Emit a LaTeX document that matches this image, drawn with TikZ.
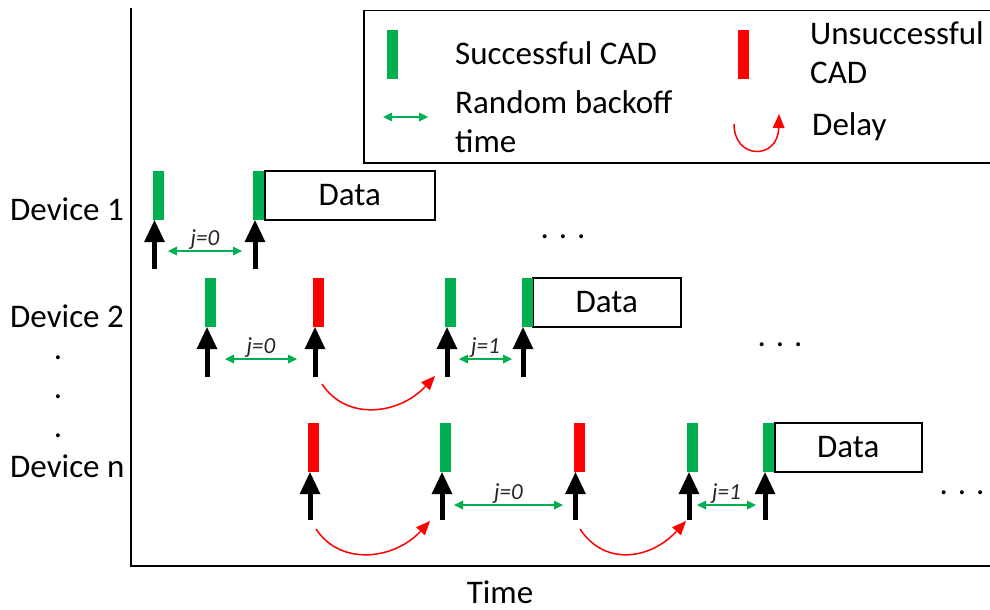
\documentclass[tikz,border=0pt]{standalone}
\usepackage{fontspec}
\setmainfont{Carlito}
\usetikzlibrary{arrows.meta}
\definecolor{cadgreen}{HTML}{00B050}
\definecolor{cadred}{HTML}{FF0000}

\begin{document}
\begin{tikzpicture}[x=1pt,y=-1pt,
  every node/.style={font=\fontsize{33}{39}\selectfont, inner sep=0pt},
  cadok/.style={fill=cadgreen, minimum width=11pt, minimum height=49pt},
  cadfail/.style={fill=cadred, minimum width=11pt, minimum height=49pt},
  databox/.style={draw, line width=1.5pt, fill=white, minimum height=49pt, anchor=west},
  uparrow/.style={line width=5pt, -{Triangle[width=21pt,length=22pt,line width=0pt]}},
  backoff/.style={cadgreen, line width=2pt,
    {Triangle[width=9pt,length=9pt,line width=0pt]}-{Triangle[width=9pt,length=9pt,line width=0pt]}},
  delay/.style={cadred, line width=1.5pt, -{Triangle[width=12pt,length=14pt,line width=0pt]}},
  jlab/.style={font=\fontsize{23}{27}\selectfont\itshape, text=black!85, anchor=south, inner sep=0.8pt},
  lbl/.style={anchor=base west},
  dots/.style={anchor=base},
]
\useasboundingbox (0,0) rectangle (990,610);

% axes
\coordinate (ytop) at (131,8);
\coordinate (orig) at (131,566);
\coordinate (xend) at (990,566);
\draw[line width=2pt] (ytop) -- (orig) -- (xend);
\node[anchor=base] (timelbl) at (500,603) {Time};

% legend
\node[draw, line width=1.5pt, minimum width=628pt, minimum height=152pt, anchor=north west] (legend) at (363,10) {};
\node[cadok] (lgok) at (392.5,54.5) {};
\node[lbl] (lgoktxt) at (455,64) {Successful CAD};
\node[cadfail] (lgfail) at (743.5,54.5) {};
\node[lbl] (lgfailtxta) at (810,45) {Unsuccessful};
\node[lbl] (lgfailtxtb) at (810,83) {CAD};
\coordinate (lgbs) at (383,117);
\coordinate (lgbe) at (428,117);
\draw[backoff] (lgbs) -- (lgbe);
\node[lbl] (lgbtxta) at (455,113) {Random backoff};
\node[lbl] (lgbtxtb) at (455,152) {time};
\coordinate (lgds) at (734,124);
\coordinate (lgde) at (779,114);
\draw[delay] (lgds) .. controls +(0,36) and +(-1,46) .. (lgde);
\node[lbl] (lgdtxt) at (812,135) {Delay};

% device labels
\node[lbl] (dev1) at (10,220) {Device 1};
\node[lbl] (dev2) at (10,327) {Device 2};
\node[dots] (vdot1) at (58,359) {.};
\node[dots] (vdot2) at (58,398) {.};
\node[dots] (vdot3) at (58,437) {.};
\node[lbl] (devn) at (10,477) {Device n};

% ---- device 1
\node[cadok] (b11) at (158,195.5) {};
\node[databox, minimum width=170pt] (d1) at (264,195.5) {Data};
\node[cadok] (b12) at (258.5,195.5) {};
\coordinate (a11) at (154.5,269);
\coordinate (a12) at (255,269);
\draw[uparrow] (a11) -- (a11 |- b11.south);
\draw[uparrow] (a12) -- (a12 |- b12.south);
\coordinate (j11s) at (168,251);
\coordinate (j11e) at (242,251);
\draw[backoff] (j11s) -- node[jlab] {j=0} (j11e);
\node[dots] (dots1) at (563,238) {. . .};

% ---- device 2
\node[cadok] (b21) at (210.5,302.5) {};
\node[cadfail] (b22) at (318.5,302.5) {};
\node[cadok] (b23) at (450.5,302.5) {};
\node[databox, minimum width=148pt] (d2) at (532,302.5) {Data};
\node[cadok] (b24) at (527,302.5) {};
\coordinate (a21) at (207,377);
\coordinate (a22) at (315,377);
\coordinate (a23) at (447,377);
\coordinate (a24) at (523,377);
\draw[uparrow] (a21) -- (a21 |- b21.south);
\draw[uparrow] (a22) -- (a22 |- b22.south);
\draw[uparrow] (a23) -- (a23 |- b23.south);
\draw[uparrow] (a24) -- (a24 |- b24.south);
\coordinate (j21s) at (225,359);
\coordinate (j21e) at (297,359);
\draw[backoff] (j21s) -- node[jlab] {j=0} (j21e);
\coordinate (j22s) at (459,359);
\coordinate (j22e) at (512,359);
\draw[backoff] (j22s) -- node[jlab] {j=1} (j22e);
\coordinate (r21s) at (322,384);
\coordinate (r21e) at (435,376);
\draw[delay] (r21s) .. controls +(25,38) and +(-35,38) .. (r21e);
\node[dots] (dots2) at (780,346) {. . .};

% ---- device n
\node[cadfail] (bn1) at (313.5,447.5) {};
\node[cadok] (bn2) at (445.5,447.5) {};
\node[cadfail] (bn3) at (579,447.5) {};
\node[cadok] (bn4) at (692.5,447.5) {};
\node[databox, minimum width=147pt] (dn) at (774,447.5) {Data};
\node[cadok] (bn5) at (768.5,447.5) {};
\coordinate (an1) at (310,520);
\coordinate (an2) at (442,520);
\coordinate (an3) at (575.5,520);
\coordinate (an4) at (689,520);
\coordinate (an5) at (765,520);
\draw[uparrow] (an1) -- (an1 |- bn1.south);
\draw[uparrow] (an2) -- (an2 |- bn2.south);
\draw[uparrow] (an3) -- (an3 |- bn3.south);
\draw[uparrow] (an4) -- (an4 |- bn4.south);
\draw[uparrow] (an5) -- (an5 |- bn5.south);
\coordinate (jn1s) at (454,505);
\coordinate (jn1e) at (563,505);
\draw[backoff] (jn1s) -- node[jlab] {j=0} (jn1e);
\coordinate (jn2s) at (697,505);
\coordinate (jn2e) at (756,505);
\draw[backoff] (jn2s) -- node[jlab] {j=1} (jn2e);
\coordinate (rn1s) at (316,529);
\coordinate (rn1e) at (430,521);
\draw[delay] (rn1s) .. controls +(25,38) and +(-35,38) .. (rn1e);
\coordinate (rn2s) at (580,529);
\coordinate (rn2e) at (686,521);
\draw[delay] (rn2s) .. controls +(25,38) and +(-35,38) .. (rn2e);
\node[dots] (dotsn) at (962,494) {. . .};
\end{tikzpicture}
\end{document}
